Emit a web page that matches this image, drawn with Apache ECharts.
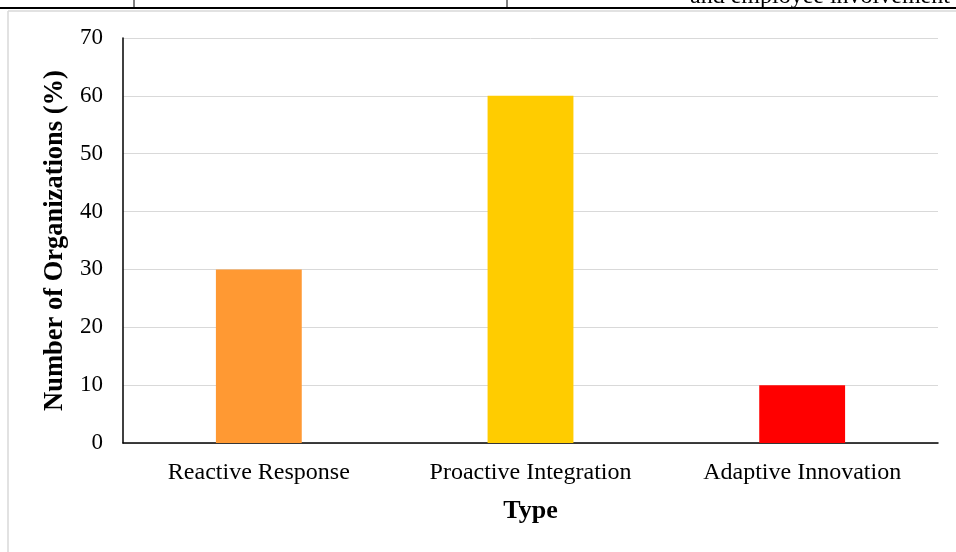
<!DOCTYPE html>
<html><head><meta charset="utf-8">
<script src="https://cdn.jsdelivr.net/npm/echarts@6/dist/echarts.min.js"></script>
<style>html,body{margin:0;padding:0;background:#fff}#c{width:956px;height:552px}</style>
</head><body><div id="c"></div>
<script>
const categories = ["Reactive Response", "Proactive Integration", "Adaptive Innovation"];
const values = [30, 60, 10];
const barColors = ["#FF9933", "#FFCC00", "#FF0000"];
const yTicks = [0, 10, 20, 30, 40, 50, 60, 70];

const chart = echarts.init(document.getElementById('c'));
const serif = '"Liberation Serif", "Times New Roman", serif';
chart.setOption({
  animation: false,
  grid: { left: 123, right: 18, top: 38, bottom: 109, containLabel: false },
  xAxis: {
    type: 'category', data: categories,
    name: 'Type', nameLocation: 'middle', nameGap: 55,
    nameTextStyle: { fontFamily: serif, fontSize: 26, fontWeight: 'bold', color: '#000' },
    axisLine: { lineStyle: { color: '#000', width: 1.5 } },
    axisTick: { show: false },
    axisLabel: { fontFamily: serif, fontSize: 24, color: '#000', margin: 18 }
  },
  yAxis: {
    type: 'value', min: yTicks[0], max: yTicks[yTicks.length - 1], interval: 10,
    name: 'Number of Organizations (%)', nameLocation: 'middle', nameGap: 52,
    nameTextStyle: { fontFamily: serif, fontSize: 26.5, fontWeight: 'bold', color: '#000' },
    axisLine: { show: true, lineStyle: { color: '#000', width: 1.5 } },
    axisTick: { show: false },
    axisLabel: { fontFamily: serif, fontSize: 23, color: '#000', margin: 20 },
    splitLine: { lineStyle: { color: '#D9D9D9', width: 1 } }
  },
  series: [{
    type: 'bar', barWidth: '31.6%',
    data: values.map((v, i) => ({ value: v, itemStyle: { color: barColors[i] } }))
  }],
  graphic: [
    { type: 'text', left: 690, top: -15, style: { text: 'and employee involvement', font: '24px ' + serif, fill: '#000' } },
    { type: 'rect', shape: { x: 0, y: 8, width: 956, height: 3 }, style: { fill: '#fff' } },
    { type: 'line', shape: { x1: 0, y1: 8, x2: 956, y2: 8 }, style: { stroke: '#000', lineWidth: 2 } },
    { type: 'line', shape: { x1: 134, y1: 0, x2: 134, y2: 8 }, style: { stroke: '#000', lineWidth: 1 } },
    { type: 'line', shape: { x1: 507, y1: 0, x2: 507, y2: 8 }, style: { stroke: '#000', lineWidth: 1 } },
    { type: 'line', shape: { x1: 8, y1: 11, x2: 956, y2: 11 }, style: { stroke: '#D9D9D9', lineWidth: 1.5 } },
    { type: 'line', shape: { x1: 8, y1: 11, x2: 8, y2: 552 }, style: { stroke: '#D9D9D9', lineWidth: 1.5 } }
  ]
});
</script></body></html>
